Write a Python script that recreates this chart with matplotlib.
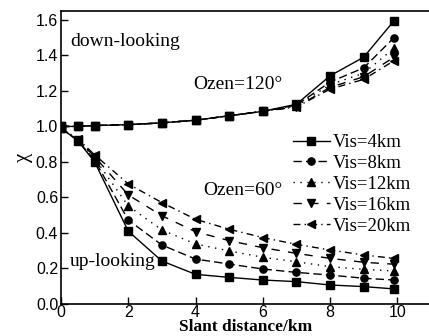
import matplotlib
matplotlib.use("Agg")
import matplotlib.pyplot as plt

# slant distance (km)
dist = [0, 0.5, 1, 2, 3, 4, 5, 6, 7, 8, 9, 9.9]
vis_labels = ["Vis=4km", "Vis=8km", "Vis=12km", "Vis=16km", "Vis=20km"]

# down-looking, Ozen=120
down_vis4 = [1.0, 1.0, 1.005, 1.01, 1.02, 1.035, 1.06, 1.085, 1.125, 1.285, 1.39, 1.595]
down_vis8 = [1.0, 1.0, 1.005, 1.01, 1.02, 1.035, 1.06, 1.085, 1.12, 1.25, 1.33, 1.50]
down_vis12 = [1.0, 1.0, 1.005, 1.01, 1.02, 1.035, 1.06, 1.085, 1.115, 1.235, 1.30, 1.44]
down_vis16 = [1.0, 1.0, 1.005, 1.01, 1.02, 1.035, 1.06, 1.085, 1.11, 1.22, 1.28, 1.39]
down_vis20 = [1.0, 1.0, 1.005, 1.01, 1.02, 1.035, 1.06, 1.085, 1.11, 1.21, 1.265, 1.37]

# up-looking, Ozen=60
up_vis4 = [0.99, 0.92, 0.80, 0.41, 0.242, 0.167, 0.150, 0.135, 0.126, 0.107, 0.098, 0.085]
up_vis8 = [0.99, 0.92, 0.81, 0.473, 0.332, 0.253, 0.225, 0.197, 0.178, 0.163, 0.145, 0.135]
up_vis12 = [0.99, 0.925, 0.82, 0.552, 0.417, 0.338, 0.299, 0.263, 0.238, 0.21, 0.195, 0.186]
up_vis16 = [0.99, 0.925, 0.83, 0.614, 0.497, 0.407, 0.357, 0.317, 0.285, 0.257, 0.235, 0.224]
up_vis20 = [0.99, 0.93, 0.84, 0.676, 0.571, 0.477, 0.421, 0.374, 0.336, 0.304, 0.276, 0.257]

down = [down_vis4, down_vis8, down_vis12, down_vis16, down_vis20]
up = [up_vis4, up_vis8, up_vis12, up_vis16, up_vis20]

markers = ["s", "o", "^", "v", "<"]
styles = ["-", (0, (6, 3)), (0, (1, 4)), (0, (6, 6)), (0, (5, 3, 1, 3))]

serif = "Liberation Serif"
plt.rcParams["font.family"] = "Liberation Sans"

fig = plt.figure(figsize=(4.29, 3.36), dpi=100)
ax = fig.add_axes([61 / 429, 32 / 336, 370 / 429, 293 / 336])

for i in range(5):
    ax.plot(dist, down[i], color="black", lw=1.0, ls=styles[i],
            marker=markers[i], ms=5.2, label=vis_labels[i])
    ax.plot(dist, up[i], color="black", lw=1.0, ls=styles[i],
            marker=markers[i], ms=5.2)

ax.set_xlim(0, 11)
ax.set_ylim(0, 1.65)
ax.set_xticks([0, 2, 4, 6, 8, 10])
ax.set_yticks([0.0, 0.2, 0.4, 0.6, 0.8, 1.0, 1.2, 1.4, 1.6])
ax.set_yticklabels(["0.0", "0.2", "0.4", "0.6", "0.8", "1.0", "1.2", "1.4", "1.6"])
ax.tick_params(direction="in", length=5, width=1, labelsize=11.5, pad=2)
ax.tick_params(axis="x", pad=1)
ax.spines["right"].set_visible(False)
for s in ["left", "bottom", "top"]:
    ax.spines[s].set_linewidth(1.2)

ax.set_xlabel("Slant distance/km", fontfamily=serif, fontweight="bold",
              fontsize=12.5, labelpad=-1)
ax.set_ylabel("χ", fontfamily=serif, fontsize=15, labelpad=2)

ax.text(0.27, 1.476, "down-looking", fontfamily=serif, fontsize=14, va="center")
ax.text(3.93, 1.234, "Ozen=120°", fontfamily=serif, fontsize=14, va="center")
ax.text(4.23, 0.637, "Ozen=60°", fontfamily=serif, fontsize=14, va="center")
ax.text(0.27, 0.242, "up-looking", fontfamily=serif, fontsize=14, va="center")

leg = ax.legend(loc="upper left", bbox_to_anchor=(0.627, 0.58), frameon=False,
                prop={"family": serif, "size": 13.5}, handlelength=1.95,
                handletextpad=0.15, labelspacing=0.2, borderpad=0,
                borderaxespad=0)

fig.savefig("out.png", dpi=100)
